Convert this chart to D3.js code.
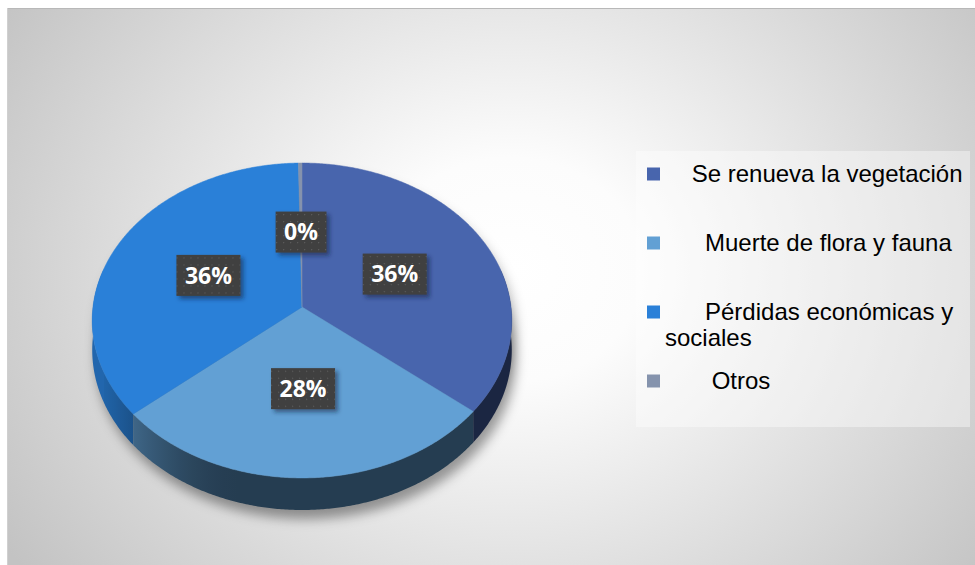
<!DOCTYPE html>
<html>
<head>
<meta charset="utf-8">
<script src="https://cdn.jsdelivr.net/npm/d3@7"></script>
<style>
  body { margin: 0; background: #ffffff; }
  svg { display: block; }
</style>
</head>
<body>
<svg id="chart" width="975" height="565"></svg>
<script>
// Categories (legend text keeps its leading spaces), shares in percent, slice colours
const categories = [
  "    Se renueva la vegetación",
  "      Muerte de flora y fauna",
  "      Pérdidas económicas y sociales",
  "       Otros"
];
const shares = [36, 28, 36, 0.3];
const colors = ["#4865ad", "#62a0d4", "#2a80d8", "#8593ad"];

const W = 975, H = 565;
const svg = d3.select("#chart");
const defs = svg.append("defs");

// ---- background panel with radial gradient ----
const bg = defs.append("radialGradient").attr("id", "bgGrad")
  .attr("gradientUnits", "userSpaceOnUse")
  .attr("cx", 510).attr("cy", 270).attr("r", 600)
  .attr("gradientTransform", "translate(510,270) scale(1,0.85) translate(-510,-270)");
bg.append("stop").attr("offset", 0).attr("stop-color", "#ffffff");
bg.append("stop").attr("offset", 0.22).attr("stop-color", "#fcfcfc");
bg.append("stop").attr("offset", 1).attr("stop-color", "#c3c3c3");

svg.append("rect").attr("x", 7).attr("y", 8).attr("width", W - 7).attr("height", H - 8)
  .attr("fill", "url(#bgGrad)");
svg.append("line").attr("x1", 7).attr("x2", W).attr("y1", 8.5).attr("y2", 8.5)
  .attr("stroke", "#b8b8b8").attr("stroke-width", 1);
svg.append("line").attr("x1", 7.5).attr("x2", 7.5).attr("y1", 8).attr("y2", H)
  .attr("stroke", "#d0d0d0").attr("stroke-width", 1);

// ---- filters and patterns ----
const shadowBlur = defs.append("filter").attr("id", "pieShadow")
  .attr("x", "-20%").attr("y", "-20%").attr("width", "140%").attr("height", "140%");
shadowBlur.append("feGaussianBlur").attr("stdDeviation", 6);

const boxShadow = defs.append("filter").attr("id", "boxShadow")
  .attr("x", "-30%").attr("y", "-30%").attr("width", "160%").attr("height", "160%");
boxShadow.append("feDropShadow").attr("dx", 3).attr("dy", 3).attr("stdDeviation", 2)
  .attr("flood-color", "#0a1a3a").attr("flood-opacity", 0.55);

const dots = defs.append("pattern").attr("id", "dots")
  .attr("patternUnits", "userSpaceOnUse").attr("width", 7).attr("height", 7);
dots.append("rect").attr("width", 7).attr("height", 7).attr("fill", "#3f3f3f");
dots.append("rect").attr("x", 3).attr("y", 3).attr("width", 1.2).attr("height", 1.2).attr("fill", "#5e5e5e");

// ---- 3D pie projection ----
const cx = 302, cy = 307, A = 209, B = 156.3, k = 0.0857, depth = 29.3;
function proj(theta, r, dz) {
  const X = r * Math.sin(theta), Z = r * Math.cos(theta);
  const w = 1 + k * Z;
  return [cx + A * X / w, cy - B * Z / w + (dz || 0) / w];
}

const total = d3.sum(shares);
const pie = d3.pie().sort(null).value(d => d);
const arcs = pie(shares).map((a, i) => ({ ...a, i, cat: categories[i], color: colors[i] }));
const pct = d3.format(".0%");

const step = Math.PI / 360;
function arcPoints(a0, a1, r, dz) {
  const n = Math.max(1, Math.ceil((a1 - a0) / step));
  return d3.range(n + 1).map(j => proj(a0 + (a1 - a0) * j / n, r, dz));
}
const line = d3.line();

// soft shadow under the pie
const shadowG = svg.append("g").attr("filter", "url(#pieShadow)")
  .attr("transform", "translate(4,9)");
shadowG.append("path")
  .attr("d", line(arcPoints(0, 2 * Math.PI, 1, depth)) + "Z")
  .attr("fill", "rgba(0,0,0,0.38)");
shadowG.append("path")
  .attr("d", line(arcPoints(0, 2 * Math.PI, 1, 0)) + "Z")
  .attr("fill", "rgba(0,0,0,0.25)");

// outer wall: one path per slice, shaded along x by a gradient (lit from the left)
function wallShade(theta) {
  const deg = theta * 180 / Math.PI;
  const t = Math.min(1, Math.max(0, (deg - 195) / 60));
  return 0.38 + 0.42 * t * t * (3 - 2 * t);
}
const walls = [];
arcs.forEach(a => {
  const lo = Math.max(a.startAngle, Math.PI / 2 - 0.25);
  const hi = Math.min(a.endAngle, 3 * Math.PI / 2 + 0.25);
  if (hi <= lo) return;
  const x1 = proj(lo, 1, 0)[0], x2 = proj(hi, 1, 0)[0];
  const grad = defs.append("linearGradient").attr("id", "wall" + a.i)
    .attr("gradientUnits", "userSpaceOnUse")
    .attr("x1", x1).attr("x2", x2).attr("y1", 0).attr("y2", 0);
  const c = d3.rgb(a.color);
  const n = 24;
  for (let j = 0; j <= n; j++) {
    const th = lo + (hi - lo) * j / n;
    const f = wallShade(th);
    const off = Math.abs(x2 - x1) < 1e-6 ? 0 : (proj(th, 1, 0)[0] - x1) / (x2 - x1);
    grad.append("stop").attr("offset", Math.min(1, Math.max(0, off)))
      .attr("stop-color", d3.rgb(c.r * f, c.g * f, c.b * f).formatHex());
  }
  const pts = [...arcPoints(lo, hi, 1, 0), ...arcPoints(lo, hi, 1, depth).reverse()];
  walls.push({ key: Math.cos((lo + hi) / 2), d: line(pts) + "Z", fill: `url(#wall${a.i})` });
});
walls.sort((p, q) => q.key - p.key);
svg.append("g").selectAll("path").data(walls).join("path")
  .attr("d", d => d.d)
  .attr("fill", d => d.fill);

// top faces
svg.append("g").selectAll("path").data(arcs).join("path")
  .attr("d", a => {
    const pts = [[cx, cy], ...arcPoints(a.startAngle, a.endAngle, 1, 0)];
    return line(pts) + "Z";
  })
  .attr("fill", a => a.color)
  .attr("stroke", a => a.color)
  .attr("stroke-width", 0.5);

// data labels: dark boxes at the middle of each slice
const labelG = svg.append("g").selectAll("g").data(arcs).join("g")
  .attr("transform", a => {
    const p = proj((a.startAngle + a.endAngle) / 2, 0.5, 0);
    return `translate(${p[0]},${p[1]})`;
  });
labelG.each(function (a) {
  const g = d3.select(this);
  const txt = g.append("text")
    .attr("text-anchor", "middle")
    .attr("dy", "0.36em")
    .attr("fill", "#ffffff")
    .style("font-family", "'Open Sans', sans-serif")
    .style("font-weight", 700)
    .style("font-size", "23px")
    .text(pct(a.value / total));
  const w = txt.node().getComputedTextLength() + 17;
  g.insert("rect", "text")
    .attr("x", -w / 2).attr("y", -20.5)
    .attr("width", w).attr("height", 41)
    .attr("fill", "url(#dots)")
    .attr("filter", "url(#boxShadow)");
});

// ---- legend ----
svg.append("rect").attr("x", 636).attr("y", 151).attr("width", 334).attr("height", 276)
  .attr("fill", "rgba(255,255,255,0.4)");

const legendX = 647, legendTextX = 665, legendTop = 174, legendGap = 69, maxRight = 966;
const legend = svg.append("g").selectAll("g").data(arcs).join("g")
  .attr("transform", (a, i) => `translate(0,${legendTop + i * legendGap})`);
legend.append("rect")
  .attr("x", legendX).attr("y", -6.5).attr("width", 13).attr("height", 13)
  .attr("fill", a => a.color);
legend.each(function (a) {
  const g = d3.select(this);
  const t = g.append("text")
    .attr("x", legendTextX).attr("y", 7.5)
    .attr("fill", "#000000")
    .style("white-space", "pre")
    .style("font-family", "'Liberation Sans', Arial, sans-serif")
    .style("font-size", "24px");
  // word wrap within the legend box
  const words = a.cat.match(/^\s*\S+|\s+\S+/g);
  let ts = t.append("tspan").attr("x", legendTextX).attr("dy", 0);
  let cur = "";
  words.forEach(wd => {
    const trial = cur + wd;
    ts.text(trial);
    if (cur && legendTextX + ts.node().getComputedTextLength() > maxRight) {
      ts.text(cur);
      cur = wd.trim();
      ts = t.append("tspan").attr("x", legendTextX).attr("dy", 26).text(cur);
    } else {
      cur = trial;
    }
  });
});
</script>
</body>
</html>
